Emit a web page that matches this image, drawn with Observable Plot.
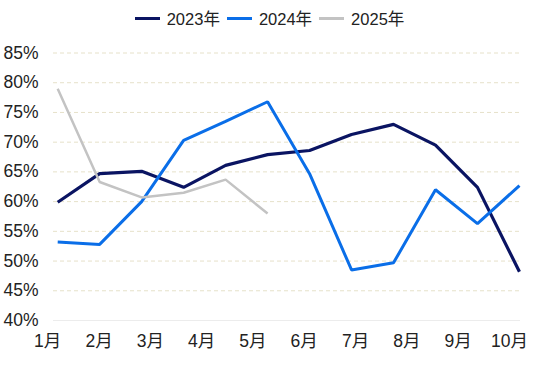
<!DOCTYPE html>
<html>
<head>
<meta charset="utf-8">
<script src="https://cdn.jsdelivr.net/npm/d3@7"></script>
<script src="https://cdn.jsdelivr.net/npm/@observablehq/plot@0.6"></script>
<style>
  body { margin: 0; background: #fff; font-family: "Liberation Sans Narrow", "Liberation Sans", Arial, "Noto Sans CJK SC", sans-serif; }
  #legend { height: 36px; display: flex; justify-content: center; align-items: center; gap: 7px; font-size: 16.5px; color: #222; padding-right: 11px; }
  .item { display: flex; align-items: center; gap: 7px; }
  .sw { width: 25px; height: 3px; display: inline-block; }
  svg { display: block; }
</style>
</head>
<body>
<div id="legend"></div>
<div id="chart"></div>
<script>
const series = ["2023年", "2024年", "2025年"];
const colors = ["#0a1462", "#0a6ee8", "#c3c3c3"];
const widths = [3.2, 3, 2.5];
const v2023 = [59.9, 64.7, 65.1, 62.4, 66.1, 67.9, 68.6, 71.3, 73.0, 69.5, 62.4, 48.2];
const v2024 = [53.2, 52.8, 60.0, 70.3, 73.5, 76.8, 64.7, 48.5, 49.7, 62.0, 56.3, 62.7];
const v2025 = [79.0, 63.3, 60.7, 61.5, 63.7, 58.0];
const xLabels = ["1月", "2月", "3月", "4月", "5月", "6月", "7月", "8月", "9月", "10月"];
const yTicks = [40, 45, 50, 55, 60, 65, 70, 75, 80, 85];

const allValues = [v2023, v2024, v2025];
const data = [];
allValues.forEach((arr, s) => arr.forEach((v, i) => data.push({series: series[s], i, v})));

const lastIndex = v2023.length - 1;
const xTickPos = xLabels.map((_, k) => k * lastIndex / (xLabels.length - 1));

const legend = document.getElementById("legend");
series.forEach((s, k) => {
  const it = document.createElement("span");
  it.className = "item";
  it.innerHTML = `<span class="sw" style="background:${colors[k]}"></span><span>${s}</span>`;
  legend.appendChild(it);
});

const chart = Plot.plot({
  width: 550,
  height: 330,
  marginTop: 16.5,
  marginBottom: 46,
  marginLeft: 53,
  marginRight: 30,
  style: {fontSize: "17.5px", fontFamily: "'Liberation Sans Narrow', 'Liberation Sans', Arial, 'Noto Sans CJK SC', sans-serif", color: "#222"},
  x: {domain: [-0.1, 11.025], axis: null, label: null},
  y: {domain: [40, 85], axis: null, label: null},
  marks: [
    Plot.ruleY(yTicks.filter(d => d > 40), {stroke: "#e6e1c9", strokeWidth: 1, strokeDasharray: "4,3"}),
    Plot.ruleY([40], {stroke: "#ececec", strokeWidth: 1}),
    Plot.axisY(yTicks, {anchor: "left", label: null, tickSize: 0, tickPadding: 0, textAnchor: "start", dx: -50, tickFormat: d => d + "%", fill: "#222", fontSize: 17.5}),
    Plot.axisX(xTickPos, {anchor: "bottom", label: null, tickSize: 0, tickPadding: 14, dx: -10, tickFormat: (d, k) => xLabels[k], fill: "#222", fontSize: 17.5}),
    ...series.map((s, k) => Plot.line(data.filter(d => d.series === s), {x: "i", y: "v", stroke: colors[k], strokeWidth: widths[k], strokeLinejoin: "miter", strokeLinecap: "butt"}))
  ]
});
document.getElementById("chart").appendChild(chart);
</script>
</body>
</html>
